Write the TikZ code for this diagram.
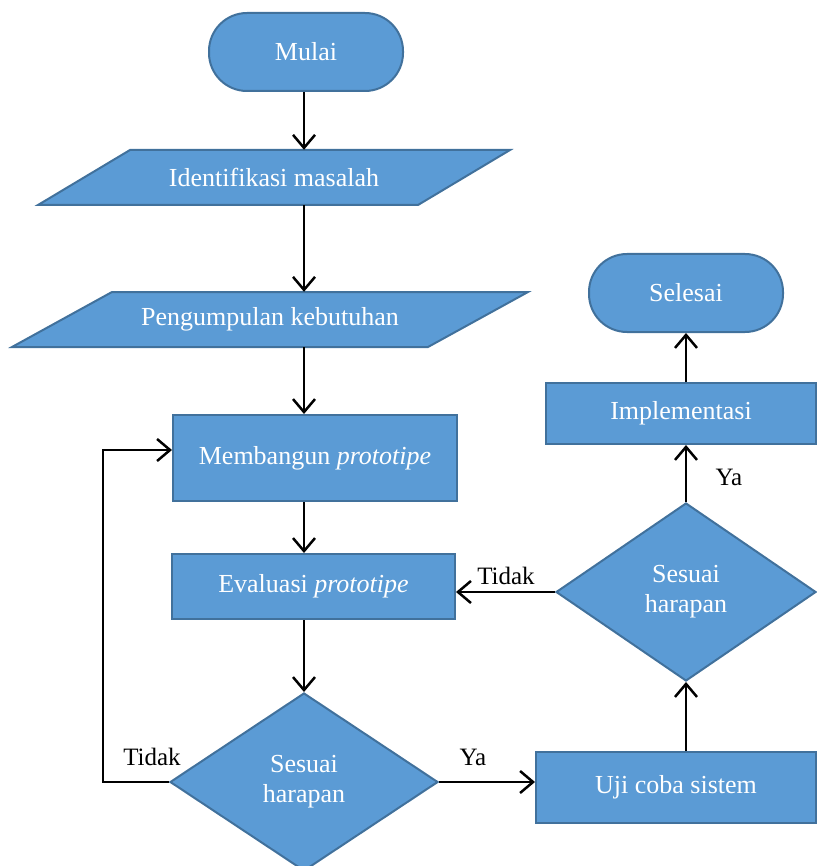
\documentclass[tikz,border=0pt]{standalone}
\usepackage{fontspec}
\setmainfont{Liberation Serif}
\usetikzlibrary{shapes.geometric,arrows.meta,calc}
\definecolor{boxfill}{HTML}{5B9BD5}
\definecolor{boxline}{HTML}{41719C}
\begin{document}
\begin{tikzpicture}[x=1pt,y=-1pt,
  shp/.style={fill=boxfill,draw=boxline,line width=2pt},
  txt/.style={text=white,font=\fontsize{26}{30}\selectfont,align=center,inner sep=0pt},
  term/.style={shp,txt,rounded corners=38pt,minimum width=194pt,minimum height=78pt},
  proc/.style={shp,txt},
  dec/.style={shp,txt,diamond,inner sep=0pt},
  lbl/.style={font=\fontsize{25}{30}\selectfont,inner sep=0pt},
  arr/.style={line width=2.5pt,-{Straight Barb[length=13pt,width=22pt,line width=2.5pt]}},
  ln/.style={line width=2.5pt}]
\useasboundingbox (0,0) rectangle (816,866);
\coordinate (colL) at (304,0);
\coordinate (colR) at (686,0);
% terminals
\node[term] (mulai) at (306,52) {Mulai};
\node[term] (selesai) at (686,293) {Selesai};
% parallelograms
\path[shp] (130,150) -- (510,150) -- (418,205) -- (38,205) -- cycle;
\node[txt,minimum height=55pt] (iden) at (274,177.5) {Identifikasi masalah};
\path[shp] (112,292) -- (528,292) -- (428,347) -- (12,347) -- cycle;
\node[txt,minimum height=55pt] (peng) at (270,319.5) {Pengumpulan kebutuhan};
% processes
\node[proc,minimum width=284pt,minimum height=86pt] (bangun) at (315,458) {Membangun \textit{prototipe}};
\node[proc,minimum width=283pt,minimum height=65pt] (eval) at (313.5,586.5) {Evaluasi \textit{prototipe}};
\node[proc,minimum width=280pt,minimum height=71pt] (uji) at (676,787.5) {Uji coba sistem};
\node[proc,minimum width=270pt,minimum height=61pt] (impl) at (681,413.5) {Implementasi};
% decisions
\node[dec,minimum width=268pt,minimum height=178pt] (dec1) at (304,782) {Sesuai\\harapan};
\node[dec,minimum width=260pt,minimum height=178pt] (dec2) at (686,592) {Sesuai\\harapan};
% connectors
\draw[arr] (colL |- mulai.south) -- (colL |- iden.north);
\draw[arr] (colL |- iden.south) -- (colL |- peng.north);
\draw[arr] (colL |- peng.south) -- (colL |- bangun.north);
\draw[arr] (colL |- bangun.south) -- (colL |- eval.north);
\draw[arr] (colL |- eval.south) -- (dec1.north);
\draw[line width=2pt,-{Straight Barb[length=13pt,width=22pt,line width=2.5pt]}] (dec1.west) -- ++(-66,0) |- ([yshift=8pt]bangun.west);
\draw[arr] (dec1.east) -- (uji.west |- dec1.east);
\draw[arr] (colR |- uji.north) -- (dec2.south);
\draw[arr] (dec2.west) -- (eval.east |- dec2.west);
\draw[arr] (dec2.north) -- (colR |- impl.south);
\draw[arr] (colR |- impl.north) -- (selesai.south);
% labels
\node[lbl] (t1) at (152,757) {Tidak};
\node[lbl] (y1) at (473,757) {Ya};
\node[lbl] (t2) at (506,576) {Tidak};
\node[lbl] (y2) at (729,477) {Ya};
\end{tikzpicture}
\end{document}
